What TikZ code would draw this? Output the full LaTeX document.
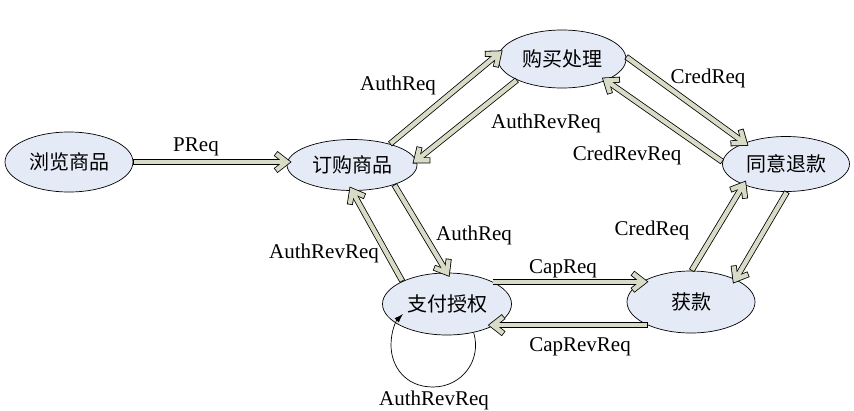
\documentclass[tikz,border=0pt]{standalone}
\usepackage{fontspec}
\setmainfont{Liberation Serif}
\newfontfamily\cjk{Noto Sans CJK SC}
\usetikzlibrary{shapes.geometric,calc,arrows.meta}
\definecolor{ellfill}{HTML}{E4EAF6}
\definecolor{arrfill}{HTML}{D8DBC6}
\tikzset{
  state/.style={ellipse, draw, line width=0.7pt, fill=ellfill, inner sep=0pt,
    font=\cjk\fontsize{20}{24}\selectfont},
  lbl/.style={font=\fontsize{21}{25}\selectfont, anchor=base, inner sep=0pt},
  harrout/.style={draw=black, line width=6pt, line cap=butt, line join=miter},
  harrin/.style={draw=arrfill, line width=4.4pt, line cap=butt, line join=miter},
  selfloop/.style={draw=black, line width=0.7pt, -{Latex[length=9pt,width=6pt]}}
}
\newcommand\harr[2]{%
  \draw[harrout] (#1) -- (#2);
  \draw[harrout] ($(#2)!14pt!38:(#1)$) -- (#2) -- ($(#2)!14pt!-38:(#1)$);
  \draw[harrin, shorten <=0.8pt] (#1) -- (#2);
  \draw[harrin, shorten <=0.8pt, shorten >=0.8pt] ($(#2)!14pt!38:(#1)$) -- (#2) -- ($(#2)!14pt!-38:(#1)$);
}
\begin{document}
\begin{tikzpicture}[x=1pt,y=-1pt]
\useasboundingbox (0,0) rectangle (854,410);
\node[state, minimum width=128pt, minimum height=60pt] (browse) at (69,162) {浏览商品};
\node[state, minimum width=130pt, minimum height=51pt] (order) at (352,165) {订购商品};
\node[state, minimum width=128pt, minimum height=58pt] (proc) at (562,59) {购买处理};
\node[state, minimum width=127pt, minimum height=55pt] (refund) at (786,164) {同意退款};
\node[state, minimum width=129pt, minimum height=62pt] (auth) at (447,304) {支付授权};
\node[state, minimum width=128pt, minimum height=62pt] (cap) at (691,302) {获款};

\coordinate (p1) at (browse.east -| order.west);
\harr{browse.east}{p1}
\harr{order.29}{proc.175}
\harr{proc.205}{order.4}
\harr{proc.2}{refund.153}
\harr{refund.178}{proc.334}
\harr{refund.272}{cap.27}
\harr{cap.89}{refund.206}
\harr{order.335}{auth.90}
\harr{auth.153}{order.270}
\coordinate (c1) at (auth.26 -| cap.156);
\harr{auth.26}{c1}
\coordinate (c2) at (cap.208 -| auth.334);
\harr{cap.208}{c2}

\coordinate (loopend) at (403,314);
\draw[selfloop] (auth.313) .. controls (482,360) and (462,387) .. (433,387)
  .. controls (405,387) and (391,366) .. (391,345)
  .. controls (391,331) and (396,321) .. (loopend);

\node[lbl] (l1) at (196,151) {PReq};
\node[lbl] (l2) at (398,90.5) {AuthReq};
\node[lbl] (l3) at (546,128.5) {AuthRevReq};
\node[lbl] (l4) at (708,83.5) {CredReq};
\node[lbl] (l5) at (627,160) {CredRevReq};
\node[lbl] (l6) at (652,235) {CredReq};
\node[lbl] (l7) at (474,240.5) {AuthReq};
\node[lbl] (l8) at (324,258.5) {AuthRevReq};
\node[lbl] (l9) at (563,273.5) {CapReq};
\node[lbl] (l10) at (580,351.5) {CapRevReq};
\node[lbl] (l11) at (434,405) {AuthRevReq};
\end{tikzpicture}
\end{document}
